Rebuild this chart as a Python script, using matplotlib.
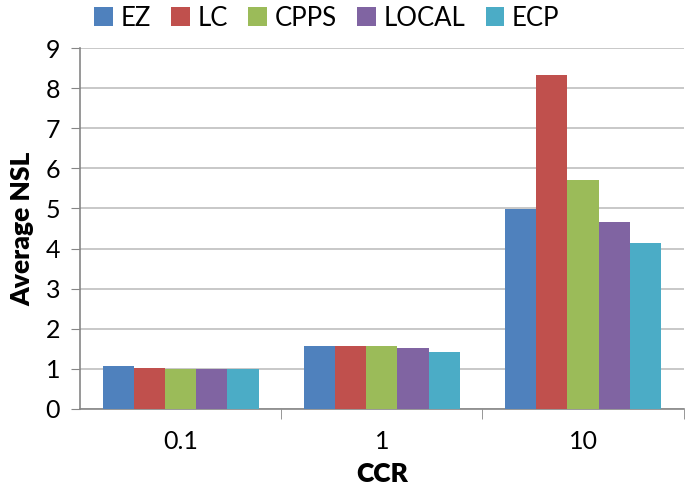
import matplotlib.pyplot as plt
import numpy as np

plt.rcParams['font.family'] = ['Lato', 'DejaVu Sans']

categories = ['0.1', '1', '10']
series = ['EZ', 'LC', 'CPPS', 'LOCAL', 'ECP']
ez = [1.06, 1.56, 4.98]
lc = [1.02, 1.56, 8.33]
cpps = [1.00, 1.58, 5.72]
local = [1.00, 1.52, 4.67]
ecp = [1.00, 1.41, 4.14]
colors = ['#4f81bd', '#c0504d', '#9bbb59', '#8064a2', '#4bacc6']

fig = plt.figure(figsize=(6.85, 4.92), dpi=100)
ax = fig.add_axes([0.117, 0.169, 0.881, 0.733])

x = np.arange(len(categories))
w = 0.155
for k, (name, vals) in enumerate(zip(series, [ez, lc, cpps, local, ecp])):
    ax.bar(x + (k - 2) * w, vals, width=w, color=colors[k], label=name, zorder=3)

ax.set_xlim(-0.5, 2.5)
ax.set_ylim(0, 9)
ax.set_yticks(range(10))
ax.set_xticks(x)
ax.set_xticklabels(categories)
ax.set_xticks([0.5, 1.5, 2.5], minor=True)
ax.tick_params(axis='x', which='major', length=0, labelsize=18, pad=15)
ax.tick_params(axis='x', which='minor', length=7, color='#868686')
ax.tick_params(axis='y', length=6.5, color='#868686', labelsize=18, pad=8)
ax.grid(axis='y', color='#bfbfbf', linewidth=1.2, zorder=0)

for s in ['top', 'right']:
    ax.spines[s].set_visible(False)
for s in ['left', 'bottom']:
    ax.spines[s].set_color('#868686')
    ax.spines[s].set_linewidth(1.2)

ax.set_ylabel('Average NSL', fontsize=19, fontweight='heavy', labelpad=8)
ax.set_xlabel('CCR', fontsize=19, fontweight='heavy', labelpad=7)

fig.legend(loc='upper left', bbox_to_anchor=(0.115, 1.02), ncol=5, frameon=False,
           fontsize=18.5, handlelength=0.72, handleheight=0.72, handletextpad=0.3,
           columnspacing=0.8, borderaxespad=0.2)

fig.savefig('out.png')
